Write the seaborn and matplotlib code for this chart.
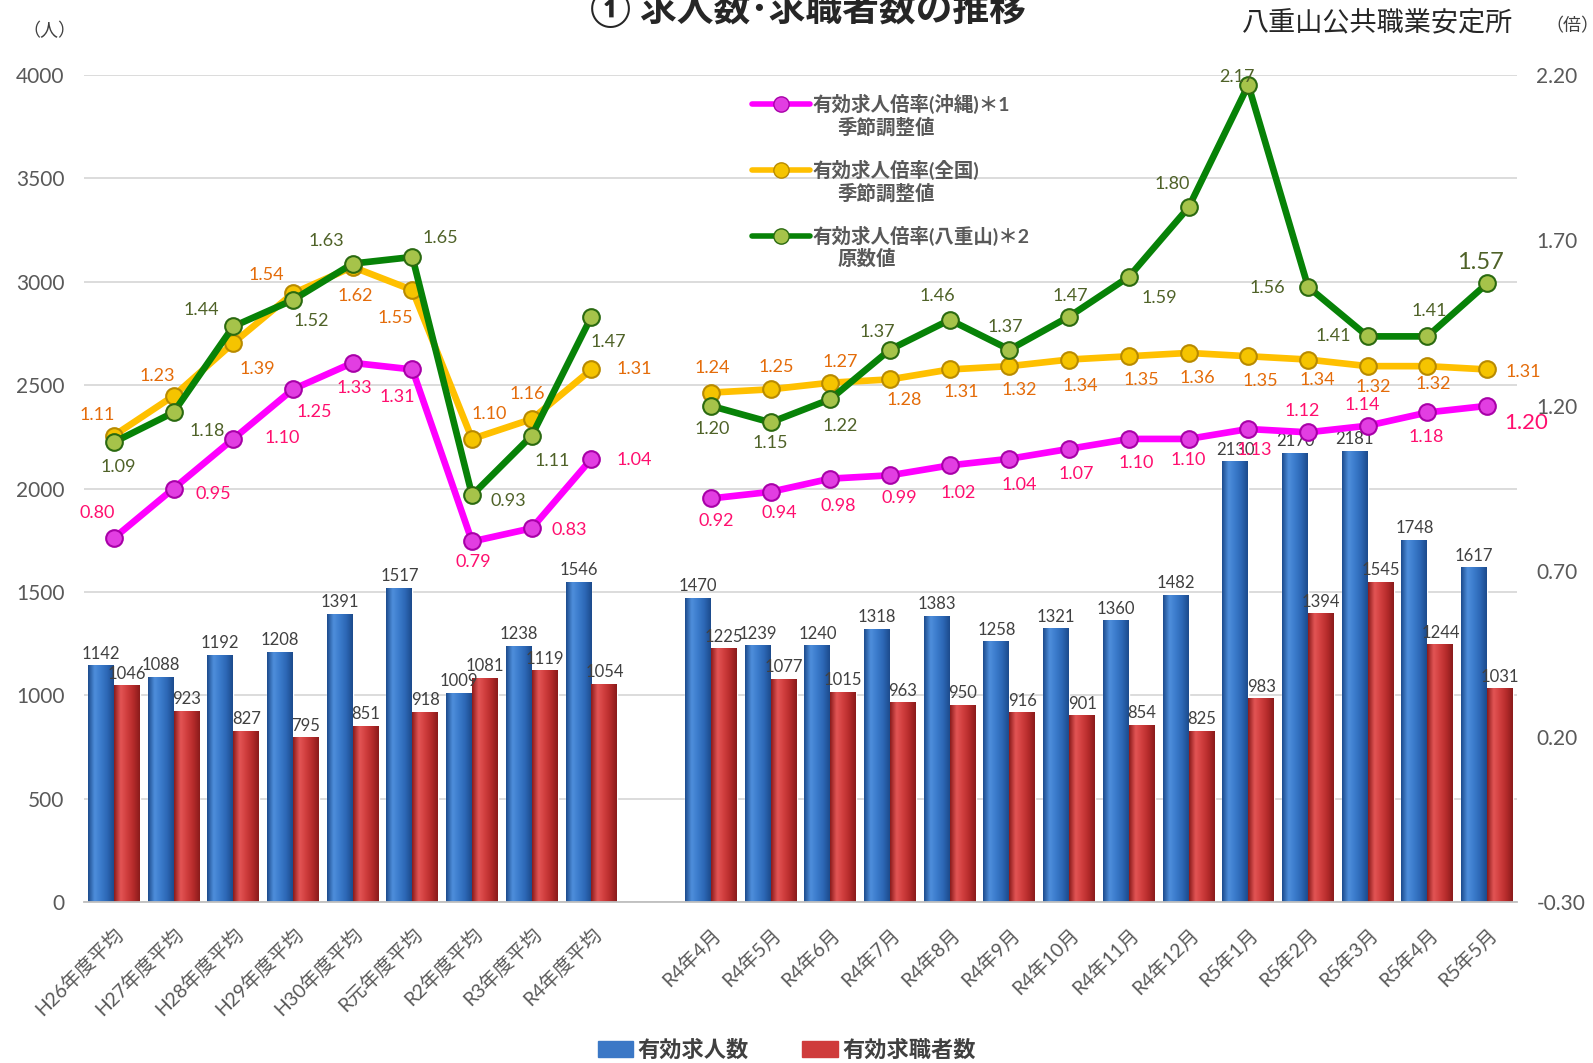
import numpy as np
import pandas as pd
import seaborn as sns
import matplotlib.pyplot as plt
from matplotlib.colors import LinearSegmentedColormap
from matplotlib.lines import Line2D
from matplotlib.patches import Patch

# ---- data ----
annual = ['H26年度平均', 'H27年度平均', 'H28年度平均', 'H29年度平均', 'H30年度平均',
          'R元年度平均', 'R2年度平均', 'R3年度平均', 'R4年度平均']
monthly = ['R4年4月', 'R4年5月', 'R4年6月', 'R4年7月', 'R4年8月', 'R4年9月', 'R4年10月',
           'R4年11月', 'R4年12月', 'R5年1月', 'R5年2月', 'R5年3月', 'R5年4月', 'R5年5月']

kyujin_annual = [1142, 1088, 1192, 1208, 1391, 1517, 1009, 1238, 1546]
kyujin_month = [1470, 1239, 1240, 1318, 1383, 1258, 1321, 1360, 1482, 2130, 2170, 2181, 1748, 1617]
kyushoku_annual = [1046, 923, 827, 795, 851, 918, 1081, 1119, 1054]
kyushoku_month = [1225, 1077, 1015, 963, 950, 916, 901, 854, 825, 983, 1394, 1545, 1244, 1031]

okinawa_annual = [0.80, 0.95, 1.10, 1.25, 1.33, 1.31, 0.79, 0.83, 1.04]
okinawa_month = [0.92, 0.94, 0.98, 0.99, 1.02, 1.04, 1.07, 1.10, 1.10, 1.13, 1.12, 1.14, 1.18, 1.20]
zenkoku_annual = [1.11, 1.23, 1.39, 1.54, 1.62, 1.55, 1.10, 1.16, 1.31]
zenkoku_month = [1.24, 1.25, 1.27, 1.28, 1.31, 1.32, 1.34, 1.35, 1.36, 1.35, 1.34, 1.32, 1.32, 1.31]
yaeyama_annual = [1.09, 1.18, 1.44, 1.52, 1.63, 1.65, 0.93, 1.11, 1.47]
yaeyama_month = [1.20, 1.15, 1.22, 1.37, 1.46, 1.37, 1.47, 1.59, 1.80, 2.17, 1.56, 1.41, 1.41, 1.57]

# label offsets (points) for the line value labels
off_okinawa = [(-12, 18), (29, -4), (35, 1), (15, -16), (1, -18), (-11, -20), (1, -15), (27, -1), (31, -1),
               (4, -16), (6, -15), (6, -20), (7, -16), (6, -20), (7, -19), (5, -18), (5, -17), (0, -15),
               (4, -15), (-4, 15), (-4, 15), (-1, -18), (28, -12)]
off_zenkoku = [(-12, 15), (-12, 14), (17, -19), (-19, 13), (2, -21), (-12, -20), (12, 18), (-3, 18), (31, 0),
               (1, 18), (4, 16), (7, 15), (10, -15), (8, -16), (7, -17), (8, -19), (9, -17), (6, -18),
               (9, -18), (7, -15), (4, -15), (4, -13), (26, -2)]
off_yaeyama = [(3, -18), (24, -13), (-23, 12), (13, -15), (-19, 16), (20, 14), (26, -4), (15, -18), (12, -18),
               (1, -17), (0, -15), (7, -19), (-9, 13), (-9, 17), (-3, 16), (1, 15), (22, -15), (-12, 17),
               (-8, 6), (-29, -1), (-25, 0), (1, 18), (-5, 15)]

sns.set_style('white')
plt.rcParams['font.family'] = ['Lato', 'Noto Sans CJK JP', 'DejaVu Sans']

cats = annual + [' '] + monthly
df = pd.DataFrame({
    '区分': (annual + monthly) * 2,
    '系列': ['有効求人数'] * 23 + ['有効求職者数'] * 23,
    '人数': kyujin_annual + kyujin_month + kyushoku_annual + kyushoku_month,
})

BLUE = '#3b78c6'
RED = '#cf3b3b'

fig = plt.figure(figsize=(15.93, 10.63), dpi=100)
ax = fig.add_axes([0.0527, 0.1514, 0.8996, 0.778])
sns.barplot(data=df, x='区分', y='人数', hue='系列', order=cats,
            hue_order=['有効求人数', '有効求職者数'], palette=[BLUE, RED],
            width=0.87, saturation=1, errorbar=None, legend=False, ax=ax)

# shaded bar faces
grad = np.linspace(0, 1, 64).reshape(1, -1)
cmaps = [LinearSegmentedColormap.from_list('b', ['#1c4b8c', '#4f8fdc', '#3b7bcb', '#2c67b5', '#1c4b8c']),
         LinearSegmentedColormap.from_list('r', ['#8a1b1b', '#e35555', '#d03e3e', '#b52b2b', '#8a1b1b'])]
for cont, cm in zip(ax.containers, cmaps):
    for bar in cont:
        x0, w, h = bar.get_x(), bar.get_width(), bar.get_height()
        ax.imshow(grad, cmap=cm, extent=(x0, x0 + w, 0, h), aspect='auto',
                  zorder=bar.get_zorder() + 0.1, interpolation='bicubic')
    ax.bar_label(cont, fmt='%d', padding=3, fontsize=12, color='#404040')

ax.set_xlim(-0.5, len(cats) - 0.5)
ax.set_ylim(0, 4000)
ax.set_yticks(range(0, 4001, 500))
ax.set_xticks(range(len(cats)))
ax.set_xticklabels(cats, rotation=45, ha='right', va='top', rotation_mode='anchor')
ax.set_xlabel('')
ax.set_ylabel('')
ax.yaxis.grid(True, color='#d9d9d9', linewidth=1.3)
ax.set_axisbelow(True)
for s in ['left', 'right', 'top']:
    ax.spines[s].set_visible(False)
ax.spines['bottom'].set_color('#bfbfbf')
ax.spines['bottom'].set_linewidth(1.3)
ax.tick_params(axis='y', length=0, pad=14, labelsize=15, labelcolor='#595959')
ax.tick_params(axis='x', length=0, pad=16, labelsize=14, labelcolor='#595959')

# ratio lines
ax2 = ax.twinx()
xa = list(range(len(annual)))
xm = list(range(len(annual) + 1, len(cats)))
series = [
    (zenkoku_annual, zenkoku_month, '#ffc000', '#f5c400', '#b88a00', '#e46c0a', off_zenkoku, 13),
    (okinawa_annual, okinawa_month, '#ff00ff', '#e23ee2', '#a800a8', '#ff0f6f', off_okinawa, 16),
    (yaeyama_annual, yaeyama_month, '#078207', '#a6c34a', '#2a6a10', '#4f6228', off_yaeyama, 17),
]
for va, vm, lc, mfc, mec, tc, offs, last_fs in series:
    for xs, ys in [(xa, va), (xm, vm)]:
        sns.lineplot(x=xs, y=ys, ax=ax2, color=lc, linewidth=4.8, marker='o', markersize=12,
                     markerfacecolor=mfc, markeredgecolor=mec, markeredgewidth=1.5)
    xs_all = xa + xm
    ys_all = va + vm
    for i, (xx, yy) in enumerate(zip(xs_all, ys_all)):
        fs = last_fs if i == len(xs_all) - 1 else 13
        ax2.annotate(f'{yy:.2f}', (xx, yy), xytext=offs[i], textcoords='offset points',
                     ha='center', va='center', fontsize=fs, color=tc)

ax2.set_ylim(-0.30, 2.20)
ax2.set_yticks(np.arange(-0.30, 2.21, 0.5))
ax2.set_yticklabels([f'{v:.2f}' for v in np.arange(-0.30, 2.21, 0.5)])
ax2.tick_params(axis='y', length=0, pad=14, labelsize=15, labelcolor='#595959')
ax2.grid(False)
for s in ax2.spines.values():
    s.set_visible(False)

# legend for the lines
handles = [Line2D([], [], color='#ff00ff', lw=4, marker='o', ms=11, mfc='#e23ee2', mec='#a800a8'),
           Line2D([], [], color='#ffc000', lw=4, marker='o', ms=11, mfc='#f5c400', mec='#b88a00'),
           Line2D([], [], color='#078207', lw=4, marker='o', ms=11, mfc='#a6c34a', mec='#2a6a10')]
labels = ['有効求人倍率(沖縄)＊1', '有効求人倍率(全国)', '有効求人倍率(八重山)＊2']
subs = ['季節調整値', '季節調整値', '原数値']
leg = ax2.legend(handles, labels, loc='upper left', bbox_to_anchor=(0.466, 0.921),
                 bbox_transform=fig.transFigure, frameon=False, fontsize=14,
                 handlelength=3.0, handletextpad=0.1, labelspacing=2.35, borderpad=0)
for t in leg.get_texts():
    t.set_fontweight('bold')
    t.set_color('#595959')

fig.canvas.draw()
inv = fig.transFigure.inverted()
for t, s in zip(leg.get_texts(), subs):
    bb = t.get_window_extent()
    px, py = inv.transform((bb.x0 + 25, bb.y0 - 3))
    fig.text(px, py, s, ha='left', va='top', fontsize=14, fontweight='bold', color='#595959')

# legend for the bars
fig.legend([Patch(color=BLUE), Patch(color=RED)], ['有効求人数', '有効求職者数'],
           loc='center', bbox_to_anchor=(0.494, 0.012), ncol=2, frameon=False,
           handlelength=1.6, handleheight=0.7, handletextpad=0.2,
           columnspacing=2.4, prop={'weight': 'bold', 'size': 16})
for t in fig.legends[0].get_texts():
    t.set_color('#404040')

fig.text(0.507, 0.992, '① 求人数･求職者数の推移', ha='center', va='center',
         fontsize=26.5, fontweight='bold', color='#262626')
fig.text(0.865, 0.979, '八重山公共職業安定所', ha='center', va='center', fontsize=19.5, color='#262626')
fig.text(0.987, 0.976, '（倍）', ha='center', va='center', fontsize=13, color='#404040')
fig.text(0.031, 0.971, '（人）', ha='center', va='center', fontsize=13, color='#404040')

fig.savefig('out.png', dpi=100)
